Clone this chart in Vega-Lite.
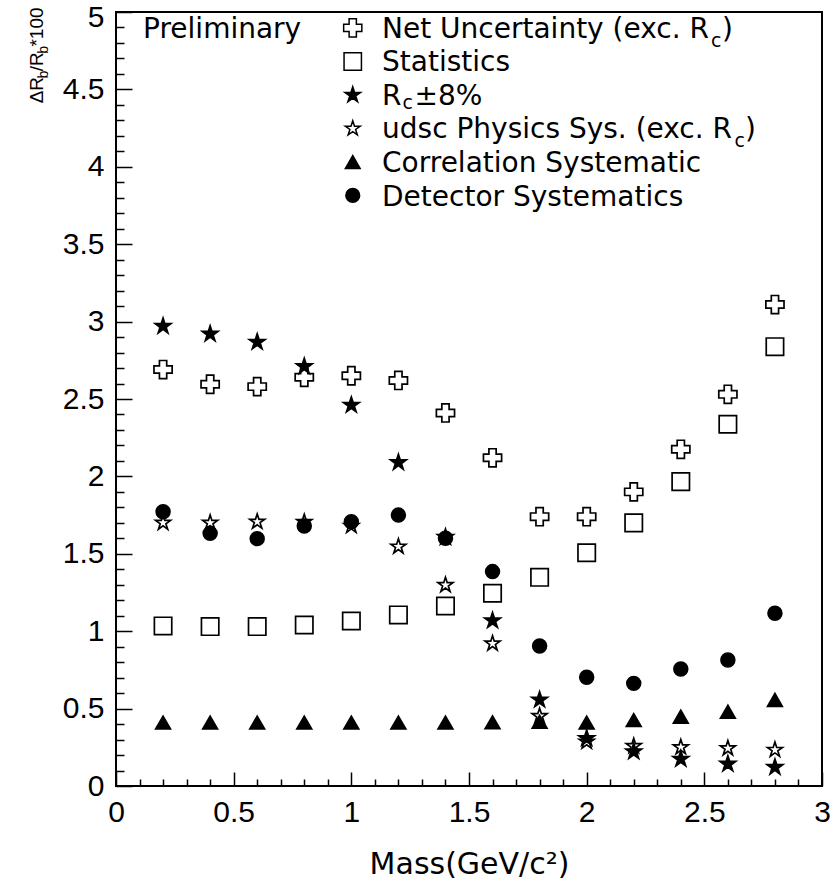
{
  "$schema": "https://vega.github.io/schema/vega-lite/v6.json",
  "width": 706,
  "height": 774,
  "autosize": "none",
  "padding": {"left": 116, "top": 12, "right": 11, "bottom": 95},
  "background": "white",
  "config": {"view": {"stroke": "black", "strokeWidth": 2}},
  "datasets": {
    "pts": [
      {"s": "Net", "x": 0.2, "y": 2.69}, {"s": "Net", "x": 0.4, "y": 2.595}, {"s": "Net", "x": 0.6, "y": 2.58}, {"s": "Net", "x": 0.8, "y": 2.64}, {"s": "Net", "x": 1.0, "y": 2.65}, {"s": "Net", "x": 1.2, "y": 2.62}, {"s": "Net", "x": 1.4, "y": 2.41}, {"s": "Net", "x": 1.6, "y": 2.12}, {"s": "Net", "x": 1.8, "y": 1.74}, {"s": "Net", "x": 2.0, "y": 1.74}, {"s": "Net", "x": 2.2, "y": 1.9}, {"s": "Net", "x": 2.4, "y": 2.175}, {"s": "Net", "x": 2.6, "y": 2.53}, {"s": "Net", "x": 2.8, "y": 3.11},
      {"s": "Stat", "x": 0.2, "y": 1.034}, {"s": "Stat", "x": 0.4, "y": 1.03}, {"s": "Stat", "x": 0.6, "y": 1.03}, {"s": "Stat", "x": 0.8, "y": 1.04}, {"s": "Stat", "x": 1.0, "y": 1.066}, {"s": "Stat", "x": 1.2, "y": 1.105}, {"s": "Stat", "x": 1.4, "y": 1.163}, {"s": "Stat", "x": 1.6, "y": 1.245}, {"s": "Stat", "x": 1.8, "y": 1.348}, {"s": "Stat", "x": 2.0, "y": 1.507}, {"s": "Stat", "x": 2.2, "y": 1.7}, {"s": "Stat", "x": 2.4, "y": 1.966}, {"s": "Stat", "x": 2.6, "y": 2.337}, {"s": "Stat", "x": 2.8, "y": 2.838},
      {"s": "udsc", "x": 0.2, "y": 1.7}, {"s": "udsc", "x": 0.4, "y": 1.7}, {"s": "udsc", "x": 0.6, "y": 1.707}, {"s": "udsc", "x": 0.8, "y": 1.705}, {"s": "udsc", "x": 1.0, "y": 1.68}, {"s": "udsc", "x": 1.2, "y": 1.546}, {"s": "udsc", "x": 1.4, "y": 1.298}, {"s": "udsc", "x": 1.6, "y": 0.92}, {"s": "udsc", "x": 1.8, "y": 0.452}, {"s": "udsc", "x": 2.0, "y": 0.286}, {"s": "udsc", "x": 2.2, "y": 0.258}, {"s": "udsc", "x": 2.4, "y": 0.25}, {"s": "udsc", "x": 2.6, "y": 0.243}, {"s": "udsc", "x": 2.8, "y": 0.233},
      {"s": "Rc", "x": 0.2, "y": 2.97}, {"s": "Rc", "x": 0.4, "y": 2.92}, {"s": "Rc", "x": 0.6, "y": 2.868}, {"s": "Rc", "x": 0.8, "y": 2.71}, {"s": "Rc", "x": 1.0, "y": 2.46}, {"s": "Rc", "x": 1.2, "y": 2.09}, {"s": "Rc", "x": 1.4, "y": 1.607}, {"s": "Rc", "x": 1.6, "y": 1.068}, {"s": "Rc", "x": 1.8, "y": 0.556}, {"s": "Rc", "x": 2.0, "y": 0.308}, {"s": "Rc", "x": 2.2, "y": 0.222}, {"s": "Rc", "x": 2.4, "y": 0.174}, {"s": "Rc", "x": 2.6, "y": 0.142}, {"s": "Rc", "x": 2.8, "y": 0.121},
      {"s": "Corr", "x": 0.2, "y": 0.41}, {"s": "Corr", "x": 0.4, "y": 0.41}, {"s": "Corr", "x": 0.6, "y": 0.41}, {"s": "Corr", "x": 0.8, "y": 0.41}, {"s": "Corr", "x": 1.0, "y": 0.41}, {"s": "Corr", "x": 1.2, "y": 0.41}, {"s": "Corr", "x": 1.4, "y": 0.41}, {"s": "Corr", "x": 1.6, "y": 0.412}, {"s": "Corr", "x": 1.8, "y": 0.415}, {"s": "Corr", "x": 2.0, "y": 0.41}, {"s": "Corr", "x": 2.2, "y": 0.426}, {"s": "Corr", "x": 2.4, "y": 0.448}, {"s": "Corr", "x": 2.6, "y": 0.48}, {"s": "Corr", "x": 2.8, "y": 0.556},
      {"s": "Det", "x": 0.2, "y": 1.772}, {"s": "Det", "x": 0.4, "y": 1.632}, {"s": "Det", "x": 0.6, "y": 1.598}, {"s": "Det", "x": 0.8, "y": 1.68}, {"s": "Det", "x": 1.0, "y": 1.707}, {"s": "Det", "x": 1.2, "y": 1.75}, {"s": "Det", "x": 1.4, "y": 1.6}, {"s": "Det", "x": 1.6, "y": 1.385}, {"s": "Det", "x": 1.8, "y": 0.904}, {"s": "Det", "x": 2.0, "y": 0.702}, {"s": "Det", "x": 2.2, "y": 0.663}, {"s": "Det", "x": 2.4, "y": 0.756}, {"s": "Det", "x": 2.6, "y": 0.814}, {"s": "Det", "x": 2.8, "y": 1.116}
    ],
    "leg": [
      {"s": "Net", "x": 1.006, "y": 4.897},
      {"s": "Stat", "x": 1.006, "y": 4.68},
      {"s": "Rc", "x": 1.006, "y": 4.464},
      {"s": "udsc", "x": 1.006, "y": 4.247},
      {"s": "Corr", "x": 1.006, "y": 4.031},
      {"s": "Det", "x": 1.006, "y": 3.815}
    ],
    "txt": [
      {"k": "main", "t": "Preliminary", "x": 0.115, "y": 4.832},
      {"k": "main", "t": "Net Uncertainty (exc. R", "x": 1.1305, "y": 4.832},
      {"k": "main", "t": ")", "x": 2.5752, "y": 4.832},
      {"k": "main", "t": "Statistics", "x": 1.1305, "y": 4.616},
      {"k": "main", "t": "R", "x": 1.1305, "y": 4.399},
      {"k": "main", "t": "±8%", "x": 1.2686, "y": 4.399},
      {"k": "main", "t": "udsc Physics Sys. (exc. R", "x": 1.1305, "y": 4.183},
      {"k": "main", "t": ")", "x": 2.6732, "y": 4.183},
      {"k": "main", "t": "Correlation Systematic", "x": 1.1305, "y": 3.966},
      {"k": "main", "t": "Detector Systematics", "x": 1.1305, "y": 3.75},
      {"k": "sub", "t": "c", "x": 2.5287, "y": 4.774},
      {"k": "sub", "t": "c", "x": 1.2176, "y": 4.375},
      {"k": "sub", "t": "c", "x": 2.6286, "y": 4.125},
      {"k": "yt", "t": "ΔR", "x": -0.3103, "y": 4.41},
      {"k": "yt", "t": "/R", "x": -0.3103, "y": 4.617},
      {"k": "yt", "t": "*100", "x": -0.3103, "y": 4.777},
      {"k": "ytsub", "t": "b", "x": -0.289, "y": 4.57},
      {"k": "ytsub", "t": "b", "x": -0.289, "y": 4.731}
    ]
  },
  "encoding": {
    "x": {
      "field": "x", "type": "quantitative",
      "scale": {"domain": [0, 3], "nice": false, "zero": false},
      "axis": {
        "values": [0,0.1,0.2,0.3,0.4,0.5,0.6,0.7,0.8,0.9,1,1.1,1.2,1.3,1.4,1.5,1.6,1.7,1.8,1.9,2,2.1,2.2,2.3,2.4,2.5,2.6,2.7,2.8,2.9,3],
        "title": "Mass(GeV/c²)",
        "titleFont": "DejaVu Sans", "titleFontSize": 30, "titleFontWeight": "normal", "titleColor": "black",
        "titleBaseline": "alphabetic", "titleY": 87,
        "labelFont": "Liberation Sans", "labelFontSize": 30, "labelColor": "black",
        "labelExpr": "abs(datum.value*2-round(datum.value*2))<0.001 ? format(datum.value,'~g') : ''",
        "labelOverlap": false, "labelFlush": false, "labelBound": false,
        "labelPadding": 25,
        "tickSize": {"condition": {"test": "abs(datum.value*2-round(datum.value*2))<0.001", "value": -14}, "value": -7},
        "tickColor": "black", "tickWidth": 1.5,
        "domain": false, "grid": false
      }
    },
    "y": {
      "field": "y", "type": "quantitative",
      "scale": {"domain": [0, 5], "nice": false, "zero": false},
      "axis": {
        "values": [0,0.1,0.2,0.3,0.4,0.5,0.6,0.7,0.8,0.9,1,1.1,1.2,1.3,1.4,1.5,1.6,1.7,1.8,1.9,2,2.1,2.2,2.3,2.4,2.5,2.6,2.7,2.8,2.9,3,3.1,3.2,3.3,3.4,3.5,3.6,3.7,3.8,3.9,4,4.1,4.2,4.3,4.4,4.5,4.6,4.7,4.8,4.9,5],
        "title": null,
        "labelFont": "Liberation Sans", "labelFontSize": 30, "labelColor": "black",
        "labelExpr": "abs(datum.value*2-round(datum.value*2))<0.001 ? format(datum.value,'~g') : ''",
        "labelOverlap": false, "labelFlush": false, "labelBound": false,
        "labelPadding": 28,
        "labelOffset": {"condition": {"test": "datum.value > 4.95", "value": 5}, "value": 0},
        "tickSize": {"condition": {"test": "abs(datum.value*2-round(datum.value*2))<0.001", "value": -16}, "value": -8},
        "tickColor": "black", "tickWidth": 1.5,
        "domain": false, "grid": false
      }
    }
  },
  "layer": [
    {
      "data": {"name": "pts"},
      "mark": {"type": "point", "filled": true, "stroke": "black", "strokeWidth": 1.7, "opacity": 1},
      "encoding": {
        "shape": {"field": "s", "type": "nominal", "legend": null,
          "scale": {"domain": ["Net", "Stat", "Rc", "udsc", "Corr", "Det"],
            "range": ["cross", "square", "M0,-1L0.2245,-0.309L0.951,-0.309L0.3633,0.118L0.5878,0.809L0,0.382L-0.5878,0.809L-0.3633,0.118L-0.951,-0.309L-0.2245,-0.309Z", "M0,-1L0.2245,-0.309L0.951,-0.309L0.3633,0.118L0.5878,0.809L0,0.382L-0.5878,0.809L-0.3633,0.118L-0.951,-0.309L-0.2245,-0.309Z", "triangle-up", "circle"]}},
        "size": {"field": "s", "type": "nominal", "legend": null,
          "scale": {"domain": ["Net", "Stat", "Rc", "udsc", "Corr", "Det"], "range": [330, 190, 200, 170, 150, 80]}},
        "fill": {"field": "s", "type": "nominal", "legend": null,
          "scale": {"domain": ["Net", "Stat", "Rc", "udsc", "Corr", "Det"], "range": ["transparent", "transparent", "black", "transparent", "black", "black"]}}
      }
    },
    {
      "data": {"name": "leg"},
      "mark": {"type": "point", "filled": true, "stroke": "black", "strokeWidth": 1.5, "opacity": 1},
      "encoding": {
        "shape": {"field": "s", "type": "nominal", "legend": null},
        "size": {"field": "s", "type": "nominal", "legend": null,
          "scale": {"domain": ["Net", "Stat", "Rc", "udsc", "Corr", "Det"], "range": [160, 150, 170, 160, 130, 110]}},
        "fill": {"field": "s", "type": "nominal", "legend": null}
      }
    },
    {
      "data": {"name": "txt"},
      "transform": [{"filter": "datum.k == 'main'"}],
      "mark": {"type": "text", "font": "DejaVu Sans", "fontSize": 28, "align": "left", "baseline": "alphabetic", "color": "black"},
      "encoding": {"text": {"field": "t"}}
    },
    {
      "data": {"name": "txt"},
      "transform": [{"filter": "datum.k == 'sub'"}],
      "mark": {"type": "text", "font": "DejaVu Sans", "fontSize": 19, "align": "left", "baseline": "alphabetic", "color": "black"},
      "encoding": {"text": {"field": "t"}}
    },
    {
      "data": {"name": "txt"},
      "transform": [{"filter": "datum.k == 'yt'"}],
      "mark": {"type": "text", "font": "Liberation Sans", "fontSize": 19, "align": "left", "baseline": "alphabetic", "angle": 270, "color": "black"},
      "encoding": {"text": {"field": "t"}}
    },
    {
      "data": {"name": "txt"},
      "transform": [{"filter": "datum.k == 'ytsub'"}],
      "mark": {"type": "text", "font": "Liberation Sans", "fontSize": 14, "align": "left", "baseline": "alphabetic", "angle": 270, "color": "black"},
      "encoding": {"text": {"field": "t"}}
    }
  ]
}
